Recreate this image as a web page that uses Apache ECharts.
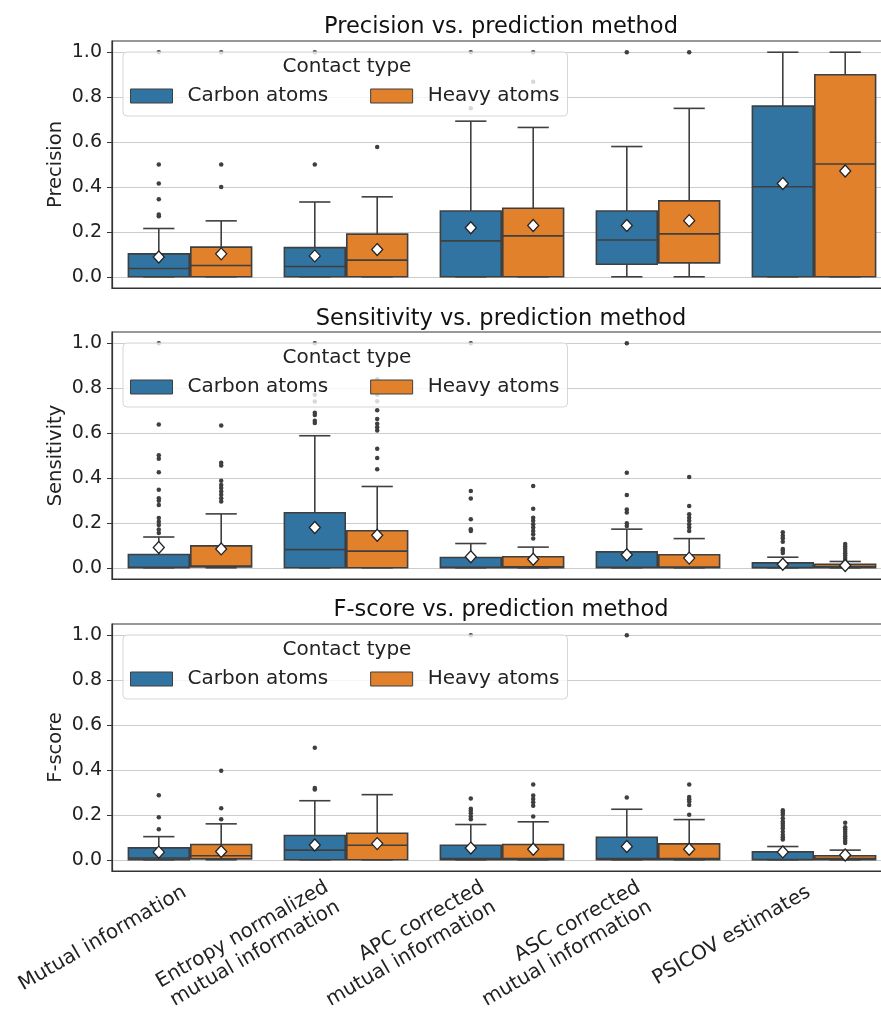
<!DOCTYPE html>
<html>
<head>
<meta charset="utf-8">
<script src="https://cdn.jsdelivr.net/npm/echarts@6/dist/echarts.min.js"></script>
<style>
  html, body { margin: 0; padding: 0; background: #fff; }
  #chart { width: 881px; height: 1012px; }
</style>
</head>
<body>
<div id="chart"></div>
<script>
// categories / hues / panels
const categories = [
  'Mutual information',
  'Entropy normalized\nmutual information',
  'APC corrected\nmutual information',
  'ASC corrected\nmutual information',
  'PSICOV estimates'
];
const hueNames = ['Carbon atoms', 'Heavy atoms'];
const metrics = ['Precision', 'Sensitivity', 'F-score'];
const yTicks = [0, 0.2, 0.4, 0.6, 0.8, 1.0];

// box stats per category: [lower whisker, q1, median, q3, upper whisker]
const precisionCarbonBox = [
  [0, 0, 0.037, 0.102, 0.215],
  [0, 0, 0.046, 0.13, 0.333],
  [0, 0, 0.16, 0.293, 0.693],
  [0, 0.056, 0.164, 0.293, 0.58],
  [0, 0, 0.401, 0.76, 1.0]
];
const precisionHeavyBox = [
  [0, 0, 0.05, 0.132, 0.249],
  [0, 0, 0.074, 0.19, 0.356],
  [0, 0, 0.182, 0.305, 0.665],
  [0, 0.062, 0.191, 0.338, 0.75],
  [0, 0, 0.502, 0.9, 1.0]
];
const precisionCarbonMean = [0.088, 0.093, 0.218, 0.228, 0.415];
const precisionHeavyMean = [0.102, 0.121, 0.228, 0.25, 0.471];
const precisionCarbonOutliers = [
  [0.27, 0.277, 0.345, 0.415, 0.5, 1.0], [0.5, 1.0], [0.75, 1.0], [1.0], []
];
const precisionHeavyOutliers = [
  [0.4, 0.5, 1.0], [0.578], [0.868, 1.0], [1.0], []
];

const sensitivityCarbonBox = [
  [0, 0, 0.002, 0.059, 0.137],
  [0, 0, 0.081, 0.245, 0.588],
  [0, 0, 0.002, 0.046, 0.108],
  [0, 0, 0.002, 0.071, 0.172],
  [0, 0, 0.001, 0.022, 0.047]
];
const sensitivityHeavyBox = [
  [0, 0.004, 0.008, 0.0975, 0.24],
  [0, 0, 0.074, 0.165, 0.362],
  [0, 0, 0.004, 0.049, 0.092],
  [0, 0, 0.003, 0.058, 0.13],
  [0, 0, 0.004, 0.015, 0.028]
];
const sensitivityCarbonMean = [0.09, 0.179, 0.049, 0.058, 0.016];
const sensitivityHeavyMean = [0.084, 0.145, 0.038, 0.043, 0.01];
const sensitivityCarbonOutliers = [
  [0.155, 0.17, 0.19, 0.205, 0.222, 0.279, 0.298, 0.31, 0.347, 0.425, 0.486, 0.501, 0.638, 1.0],
  [0.645, 0.655, 0.68, 0.69, 0.74, 0.77, 1.0],
  [0.164, 0.172, 0.216, 0.308, 0.342, 1.0],
  [0.186, 0.198, 0.246, 0.26, 0.324, 0.423, 1.0],
  [0.066, 0.077, 0.084, 0.116, 0.131, 0.143, 0.158]
];
const sensitivityHeavyOutliers = [
  [0.295, 0.31, 0.325, 0.34, 0.355, 0.369, 0.387, 0.456, 0.468, 0.634],
  [0.439, 0.489, 0.53, 0.611, 0.626, 0.641, 0.663, 0.702, 0.742, 0.77, 0.84],
  [0.13, 0.149, 0.164, 0.179, 0.194, 0.209, 0.223, 0.263, 0.364],
  [0.164, 0.179, 0.194, 0.209, 0.223, 0.238, 0.275, 0.404],
  [0.035, 0.045, 0.055, 0.065, 0.075, 0.085, 0.095, 0.106]
];

const fscoreCarbonBox = [
  [0, 0, 0.008, 0.053, 0.103],
  [0, 0, 0.043, 0.108, 0.263],
  [0, 0, 0.006, 0.065, 0.157],
  [0, 0, 0.005, 0.1, 0.225],
  [0, 0, 0.001, 0.035, 0.059]
];
const fscoreHeavyBox = [
  [0, 0.004, 0.018, 0.068, 0.16],
  [0, 0, 0.065, 0.118, 0.29],
  [0, 0, 0.005, 0.068, 0.169],
  [0, 0, 0.005, 0.071, 0.179],
  [0, 0, 0.006, 0.018, 0.043]
];
const fscoreCarbonMean = [0.034, 0.066, 0.052, 0.059, 0.035];
const fscoreHeavyMean = [0.037, 0.072, 0.047, 0.047, 0.021];
const fscoreCarbonOutliers = [
  [0.136, 0.189, 0.287],
  [0.313, 0.32, 0.499],
  [0.181, 0.193, 0.207, 0.218, 0.227, 0.273, 1.0],
  [0.277, 1.0],
  [0.09, 0.1, 0.11, 0.125, 0.14, 0.15, 0.16, 0.17, 0.185, 0.2, 0.21, 0.22]
];
const fscoreHeavyOutliers = [
  [0.18, 0.229, 0.397],
  [],
  [0.193, 0.241, 0.256, 0.271, 0.286, 0.335],
  [0.2, 0.244, 0.259, 0.27, 0.28, 0.335],
  [0.075, 0.085, 0.095, 0.105, 0.115, 0.125, 0.135, 0.145, 0.165]
];

const panels = [
  { boxes: [precisionCarbonBox, precisionHeavyBox], means: [precisionCarbonMean, precisionHeavyMean], outliers: [precisionCarbonOutliers, precisionHeavyOutliers] },
  { boxes: [sensitivityCarbonBox, sensitivityHeavyBox], means: [sensitivityCarbonMean, sensitivityHeavyMean], outliers: [sensitivityCarbonOutliers, sensitivityHeavyOutliers] },
  { boxes: [fscoreCarbonBox, fscoreHeavyBox], means: [fscoreCarbonMean, fscoreHeavyMean], outliers: [fscoreCarbonOutliers, fscoreHeavyOutliers] }
];

const colors = ['#3274a1', '#e1812c'];
const lineColor = '#3f3f3f';
const font = 'DejaVu Sans';
const gridTops = [41, 332, 624];
const gridHeight = 247;
const titleCenters = [25, 317, 608];
const hueOffset = [-0.2, 0.2];

// box drawn from the axes through the custom series
function boxRenderer(color) {
  return function (params, api) {
    const x = api.value(0);
    const lo = api.coord([x, api.value(1)]);
    const q1 = api.coord([x, api.value(2)]);
    const med = api.coord([x, api.value(3)]);
    const q3 = api.coord([x, api.value(4)]);
    const hi = api.coord([x, api.value(5)]);
    const w = api.size([0.4, 0])[0];
    const cx = med[0];
    const cap = w / 4;
    const ls = { stroke: lineColor, lineWidth: 1.6 };
    return {
      type: 'group',
      children: [
        { type: 'line', shape: { x1: cx, y1: lo[1], x2: cx, y2: q1[1] }, style: ls },
        { type: 'line', shape: { x1: cx, y1: q3[1], x2: cx, y2: hi[1] }, style: ls },
        { type: 'line', shape: { x1: cx - cap, y1: lo[1], x2: cx + cap, y2: lo[1] }, style: ls },
        { type: 'line', shape: { x1: cx - cap, y1: hi[1], x2: cx + cap, y2: hi[1] }, style: ls },
        { type: 'rect', shape: { x: cx - w / 2 + 0.8, y: q3[1], width: w - 1.6, height: q1[1] - q3[1] },
          style: { fill: color, stroke: lineColor, lineWidth: 1.6 } },
        { type: 'line', shape: { x1: cx - w / 2 + 0.8, y1: med[1], x2: cx + w / 2 - 0.8, y2: med[1] }, style: ls }
      ]
    };
  };
}

// rotated tick labels: the two-line ones sit a little lower, like matplotlib's top-right anchor
const categoryData = categories.map(function (c) {
  return {
    value: c,
    textStyle: { padding: c.indexOf('\n') >= 0 ? [25, 15.5, 0, 0] : [0, 5.8, 0, 0] }
  };
});

const grid = [], xAxis = [], yAxis = [], series = [], legend = [], title = [], graphic = [];

panels.forEach(function (panel, p) {
  grid.push({
    left: 112, right: -11, top: gridTops[p], height: gridHeight,
    outerBoundsMode: 'none', containLabel: false,
    show: true, borderColor: '#333', borderWidth: 1.2, backgroundColor: 'transparent'
  });
  xAxis.push({
    type: 'category', gridIndex: p, data: categoryData, boundaryGap: true,
    axisLine: { onZero: false, lineStyle: { color: '#333', width: 1.2 } },
    axisTick: { alignWithLabel: true, length: 5, lineStyle: { color: '#333' } },
    axisLabel: p === 2 ? {
      rotate: 30, fontSize: 20, fontFamily: font, color: '#222',
      margin: 17, lineHeight: 23, interval: 0, hideOverlap: false
    } : { show: false },
    splitLine: { show: false }
  });
  xAxis.push({ type: 'value', gridIndex: p, min: -0.5, max: 4.5, show: false });
  yAxis.push({
    type: 'value', gridIndex: p, min: -0.05, max: 1.05,
    name: metrics[p], nameLocation: 'middle', nameGap: 46, nameMoveOverlap: false,
    nameTextStyle: { fontSize: 19.5, fontFamily: font, color: '#222' },
    axisLine: { show: true, onZero: false, lineStyle: { color: '#333', width: 1.2 } },
    axisTick: { show: true, length: 5, customValues: yTicks, lineStyle: { color: '#333' } },
    axisLabel: { customValues: yTicks, fontSize: 19, fontFamily: font, color: '#222', margin: 10,
      formatter: function (v) { return v.toFixed(1); } },
    splitLine: { show: true, lineStyle: { color: '#cccccc', width: 1 } }
  });

  hueNames.forEach(function (hue, h) {
    series.push({
      type: 'custom', name: hue, xAxisIndex: 2 * p + 1, yAxisIndex: p, z: 2,
      encode: { x: 0, y: [1, 2, 3, 4, 5] },
      renderItem: boxRenderer(colors[h]),
      data: panel.boxes[h].map(function (b, i) { return [i + hueOffset[h]].concat(b); })
    });
    const pts = [];
    panel.outliers[h].forEach(function (list, i) {
      list.forEach(function (v) { pts.push([i + hueOffset[h], v]); });
    });
    series.push({
      type: 'scatter', name: 'outliers', xAxisIndex: 2 * p + 1, yAxisIndex: p, z: 3,
      symbol: 'circle', symbolSize: 4.5, silent: true,
      itemStyle: { color: lineColor, opacity: 1 },
      data: pts
    });
    series.push({
      type: 'scatter', name: 'mean', xAxisIndex: 2 * p + 1, yAxisIndex: p, z: 4,
      symbol: 'diamond', symbolSize: [11, 12], silent: true,
      itemStyle: { color: '#ffffff', borderColor: '#222', borderWidth: 1.3, opacity: 1 },
      data: panel.means[h].map(function (m, i) { return [i + hueOffset[h], m]; })
    });
  });

  legend.push({
    left: 123, top: gridTops[p] + 11, orient: 'horizontal', z: 10,
    padding: [33, 8, 9, 7], itemGap: 42, itemWidth: 42, itemHeight: 14,
    backgroundColor: 'rgba(255,255,255,0.8)', borderColor: '#d6d6d6', borderWidth: 1, borderRadius: 4,
    icon: 'rect', selectedMode: false,
    textStyle: { fontSize: 20, fontFamily: font, color: '#222', lineHeight: 22, padding: [0, 0, 0, 10] },
    data: hueNames.map(function (hue, h) {
      return { name: hue, itemStyle: { color: colors[h], borderColor: lineColor, borderWidth: 1 } };
    })
  });
  graphic.push({
    type: 'text', x: 347, y: gridTops[p] + 26, z: 20,
    style: { text: 'Contact type', fontSize: 20, fontFamily: font, fill: '#222',
      textAlign: 'center', textVerticalAlign: 'middle' }
  });
  title.push({
    text: metrics[p] + ' vs. prediction method', left: 501, top: titleCenters[p] - 9,
    textAlign: 'center', padding: 0,
    textStyle: { fontSize: 22.5, fontFamily: font, color: '#111', fontWeight: 'normal' }
  });
});

const chart = echarts.init(document.getElementById('chart'), null, { renderer: 'canvas' });
chart.setOption({
  animation: false,
  backgroundColor: '#fff',
  title: title,
  grid: grid,
  xAxis: xAxis,
  yAxis: yAxis,
  legend: legend,
  graphic: graphic,
  series: series
});
</script>
</body>
</html>
